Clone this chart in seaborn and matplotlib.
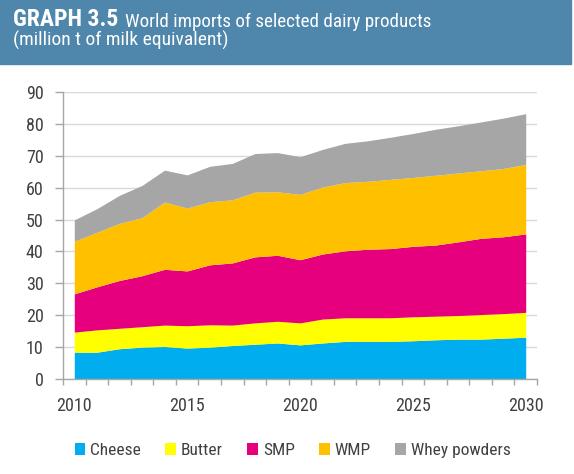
import numpy as np
import matplotlib
matplotlib.use("Agg")
import matplotlib.pyplot as plt
import seaborn as sns
from matplotlib import font_manager

# ---------------- DATA ----------------
years = list(range(2010, 2031))
cheese = [8.4, 8.4, 9.5, 10.0, 10.2, 9.7, 10.0, 10.5, 10.9, 11.3, 10.7,
          11.3, 11.8, 11.8, 11.8, 12.0, 12.3, 12.5, 12.5, 12.8, 13.1]
butter = [6.3, 7.0, 6.4, 6.4, 6.7, 7.0, 7.0, 6.4, 6.7, 6.8, 6.9,
          7.5, 7.4, 7.4, 7.4, 7.5, 7.4, 7.4, 7.7, 7.7, 7.8]
smp = [12.0, 13.5, 15.0, 16.0, 17.5, 17.2, 18.8, 19.5, 20.7, 20.7, 19.8,
       20.4, 21.0, 21.5, 21.7, 22.1, 22.3, 23.1, 23.9, 24.1, 24.6]
wmp = [16.5, 17.1, 17.9, 18.2, 21.1, 19.7, 19.8, 19.8, 20.3, 19.9, 20.5,
       21.0, 21.4, 21.3, 21.7, 21.6, 21.9, 21.6, 21.2, 21.4, 21.8]
whey = [6.7, 7.4, 8.8, 10.1, 10.0, 10.4, 11.1, 11.4, 12.1, 12.3, 11.8,
        11.8, 12.3, 12.7, 13.2, 13.8, 14.4, 14.8, 15.3, 15.8, 15.9]
labels = ["Cheese", "Butter", "SMP", "WMP", "Whey powders"]
colors = ["#00AEEF", "#FFFF00", "#E6007E", "#FFC000", "#A6A6A6"]
year_ticks = [2010, 2015, 2020, 2025, 2030]

# ---------------- THEME ----------------
sns.set_theme(style="white")
installed = {f.name for f in font_manager.fontManager.ttflist}
font = "Roboto"
for cand in ["Liberation Sans Narrow", "Roboto Condensed", "Open Sans Condensed"]:
    if cand in installed:
        font = cand
        break
plt.rcParams["font.family"] = [font, "DejaVu Sans"]

TEXT = "#404040"
AXIS = "#A6A6A6"
BAND = "#4E86AC"

fig = plt.figure(figsize=(5.74, 4.74), dpi=100)

# ---------------- HEADER ----------------
fig.patches.append(plt.Rectangle((0, 1 - 64 / 474), 0.995, 64 / 474,
                                 transform=fig.transFigure, color=BAND, zorder=0))
head = fig.text(13 / 574, 1 - 26 / 474, "GRAPH 3.5", color="white", fontsize=17,
                fontweight="bold", va="baseline")
fig.add_artist(plt.Annotation("World imports of selected dairy products",
                              xy=(1, 0), xycoords=head, xytext=(5, 0),
                              textcoords="offset points", color="white",
                              fontsize=13.8, va="bottom"))
fig.text(13 / 574, 1 - 46 / 474, "(million t of milk equivalent)",
         color="white", fontsize=14, va="baseline")

# ---------------- STACKED AREAS ----------------
ax = fig.add_axes([63 / 574, 1 - 379 / 474, 474 / 574, 287 / 474])
ax.stackplot(years, cheese, butter, smp, wmp, whey, colors=colors,
             labels=labels, linewidth=0, zorder=2)

ax.set_xlim(2009.5, 2030.5)
ax.set_ylim(0, 90)
ax.set_yticks(range(0, 91, 10))
ax.yaxis.grid(True, color="#D9D9D9", linewidth=1, zorder=0)
ax.set_axisbelow(True)

ax.set_xticks(year_ticks)
ax.set_xticks(np.arange(2009.5, 2031, 1), minor=True)
ax.tick_params(axis="x", which="major", length=0, pad=13, labelsize=13,
               labelcolor=TEXT)
ax.tick_params(axis="x", which="minor", length=4, width=1, color=AXIS,
               direction="out", bottom=True)
ax.tick_params(axis="y", length=6, width=1, color=AXIS, direction="out",
               labelsize=13, labelcolor=TEXT, pad=8, left=True)

for side in ["top", "right"]:
    ax.spines[side].set_visible(False)
for side in ["left", "bottom"]:
    ax.spines[side].set_color(AXIS)
    ax.spines[side].set_linewidth(1)

fig.legend(loc="center", bbox_to_anchor=(0.51, 0.05), ncol=5, frameon=False,
           fontsize=12.5, handlelength=0.6, handleheight=0.7, handletextpad=0.3,
           columnspacing=1.4, labelcolor=TEXT)

fig.savefig("out.png", dpi=100)
